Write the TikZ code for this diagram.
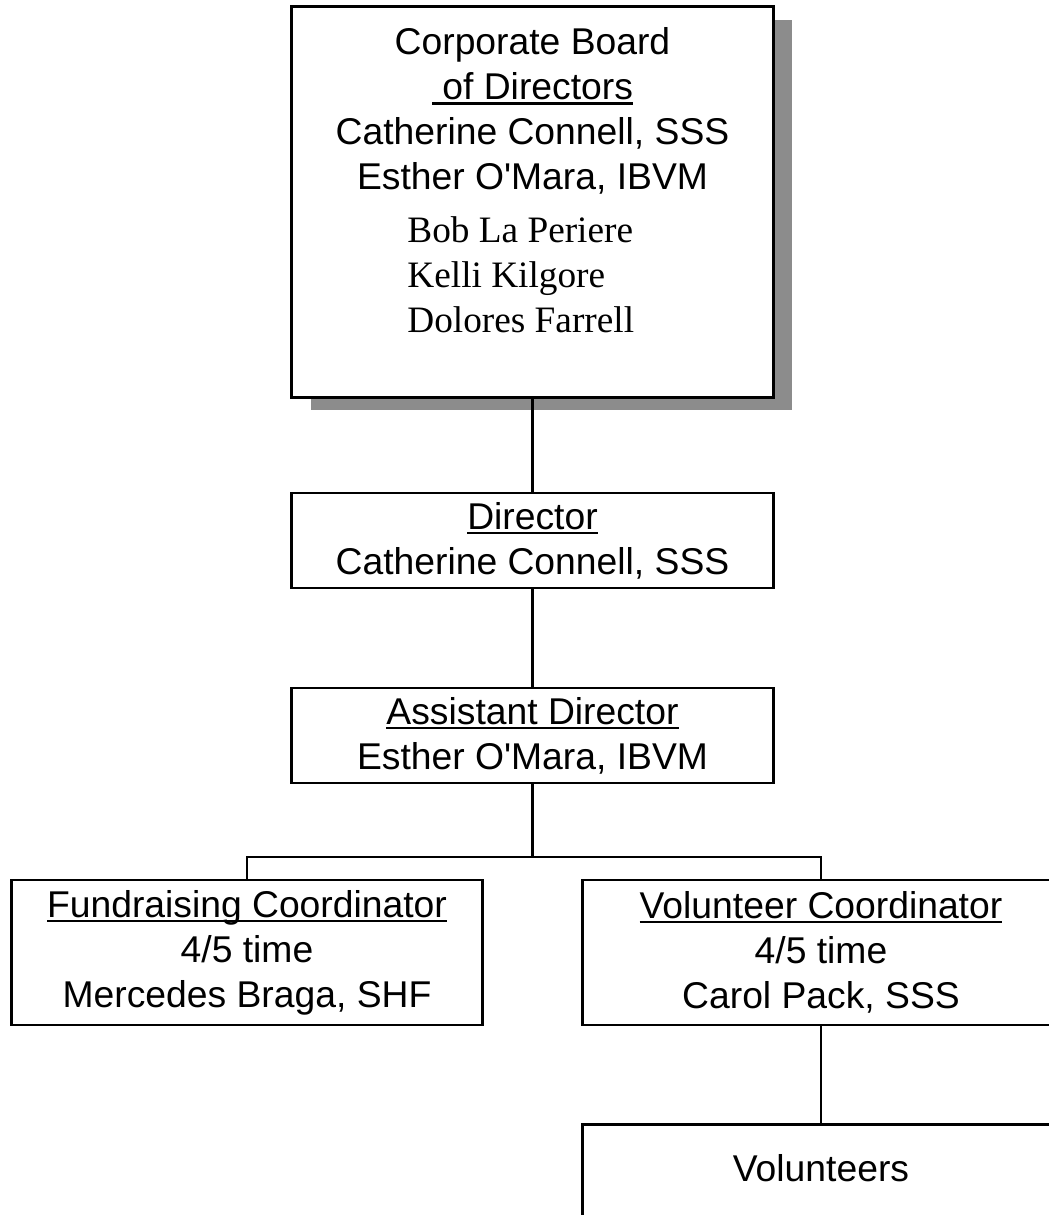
\documentclass[tikz,border=0pt]{standalone}
\usepackage{fontspec}
\setmainfont{Liberation Sans}
\newfontfamily\timesfont{Liberation Serif}
\usetikzlibrary{shadows}
\definecolor{ShadowClr}{gray}{0.55}
\newsavebox{\ulbox}
\newcommand{\uln}[1]{\sbox{\ulbox}{#1}\rlap{\rule[-1.3pt]{\wd\ulbox}{0.6pt}}\usebox{\ulbox}}
\newcommand{\boardname}[1]{{\timesfont\makebox[2.5cm][l]{#1}}}

\begin{document}
\begin{tikzpicture}[x=0.01cm,y=-0.01cm,
  basebox/.style={draw,line width=0.8pt,fill=white,inner sep=1pt,
    font=\fontsize{10.6}{12.8}\selectfont},
  orgbox/.style={basebox,align=center,minimum width=4.81cm,minimum height=0.95cm},
  coordbox/.style={basebox,align=center,minimum height=1.45cm},
  link/.style={line width=0.6pt}]
\useasboundingbox (0,0) rectangle (1048,1215);

% board of directors, with shadow
\node[basebox,minimum width=4.81cm,minimum height=3.9cm,
  drop shadow={shadow xshift=0.19cm,shadow yshift=-0.13cm,fill=ShadowClr,opacity=1}]
  (board) at (532.5,202) {\begin{tabular}{@{}c@{}}
    Corporate Board\\
    \uln{\ of Directors}\\
    Catherine Connell, SSS\\
    Esther O\textquotesingle Mara, IBVM\\[0.07cm]
    \boardname{Bob La Periere}\\
    \boardname{Kelli Kilgore}\\
    \boardname{Dolores Farrell}\\[0.35cm]
  \end{tabular}};

\node[orgbox] (director) at (532.5,540.5) {\uln{Director}\\ Catherine Connell, SSS};
\node[orgbox] (asst) at (532.5,735.5) {\uln{Assistant Director}\\ Esther O\textquotesingle Mara, IBVM};

\node[coordbox,minimum width=4.70cm] (fund) at (247,952.5)
  {\uln{Fundraising Coordinator}\\ 4/5 time\\ Mercedes Braga, SHF};
\node[coordbox,minimum width=4.76cm] (vol) at (821,952.5)
  {\uln{Volunteer Coordinator}\\ 4/5 time\\ Carol Pack, SSS};

\node[basebox,anchor=north,minimum width=4.76cm,minimum height=1.37cm,text depth=0.5cm]
  (volunteers) at (821,1123) {Volunteers};

% connectors
\coordinate (bus) at (532.5,857);
\draw[link] (board.south) -- (director.north);
\draw[link] (director.south) -- (asst.north);
\draw[link] (asst.south) -- (bus);
\draw[link] (fund.north) |- (bus) -| (vol.north);
\draw[link] (vol.south) -- (volunteers.north);
\end{tikzpicture}
\end{document}
